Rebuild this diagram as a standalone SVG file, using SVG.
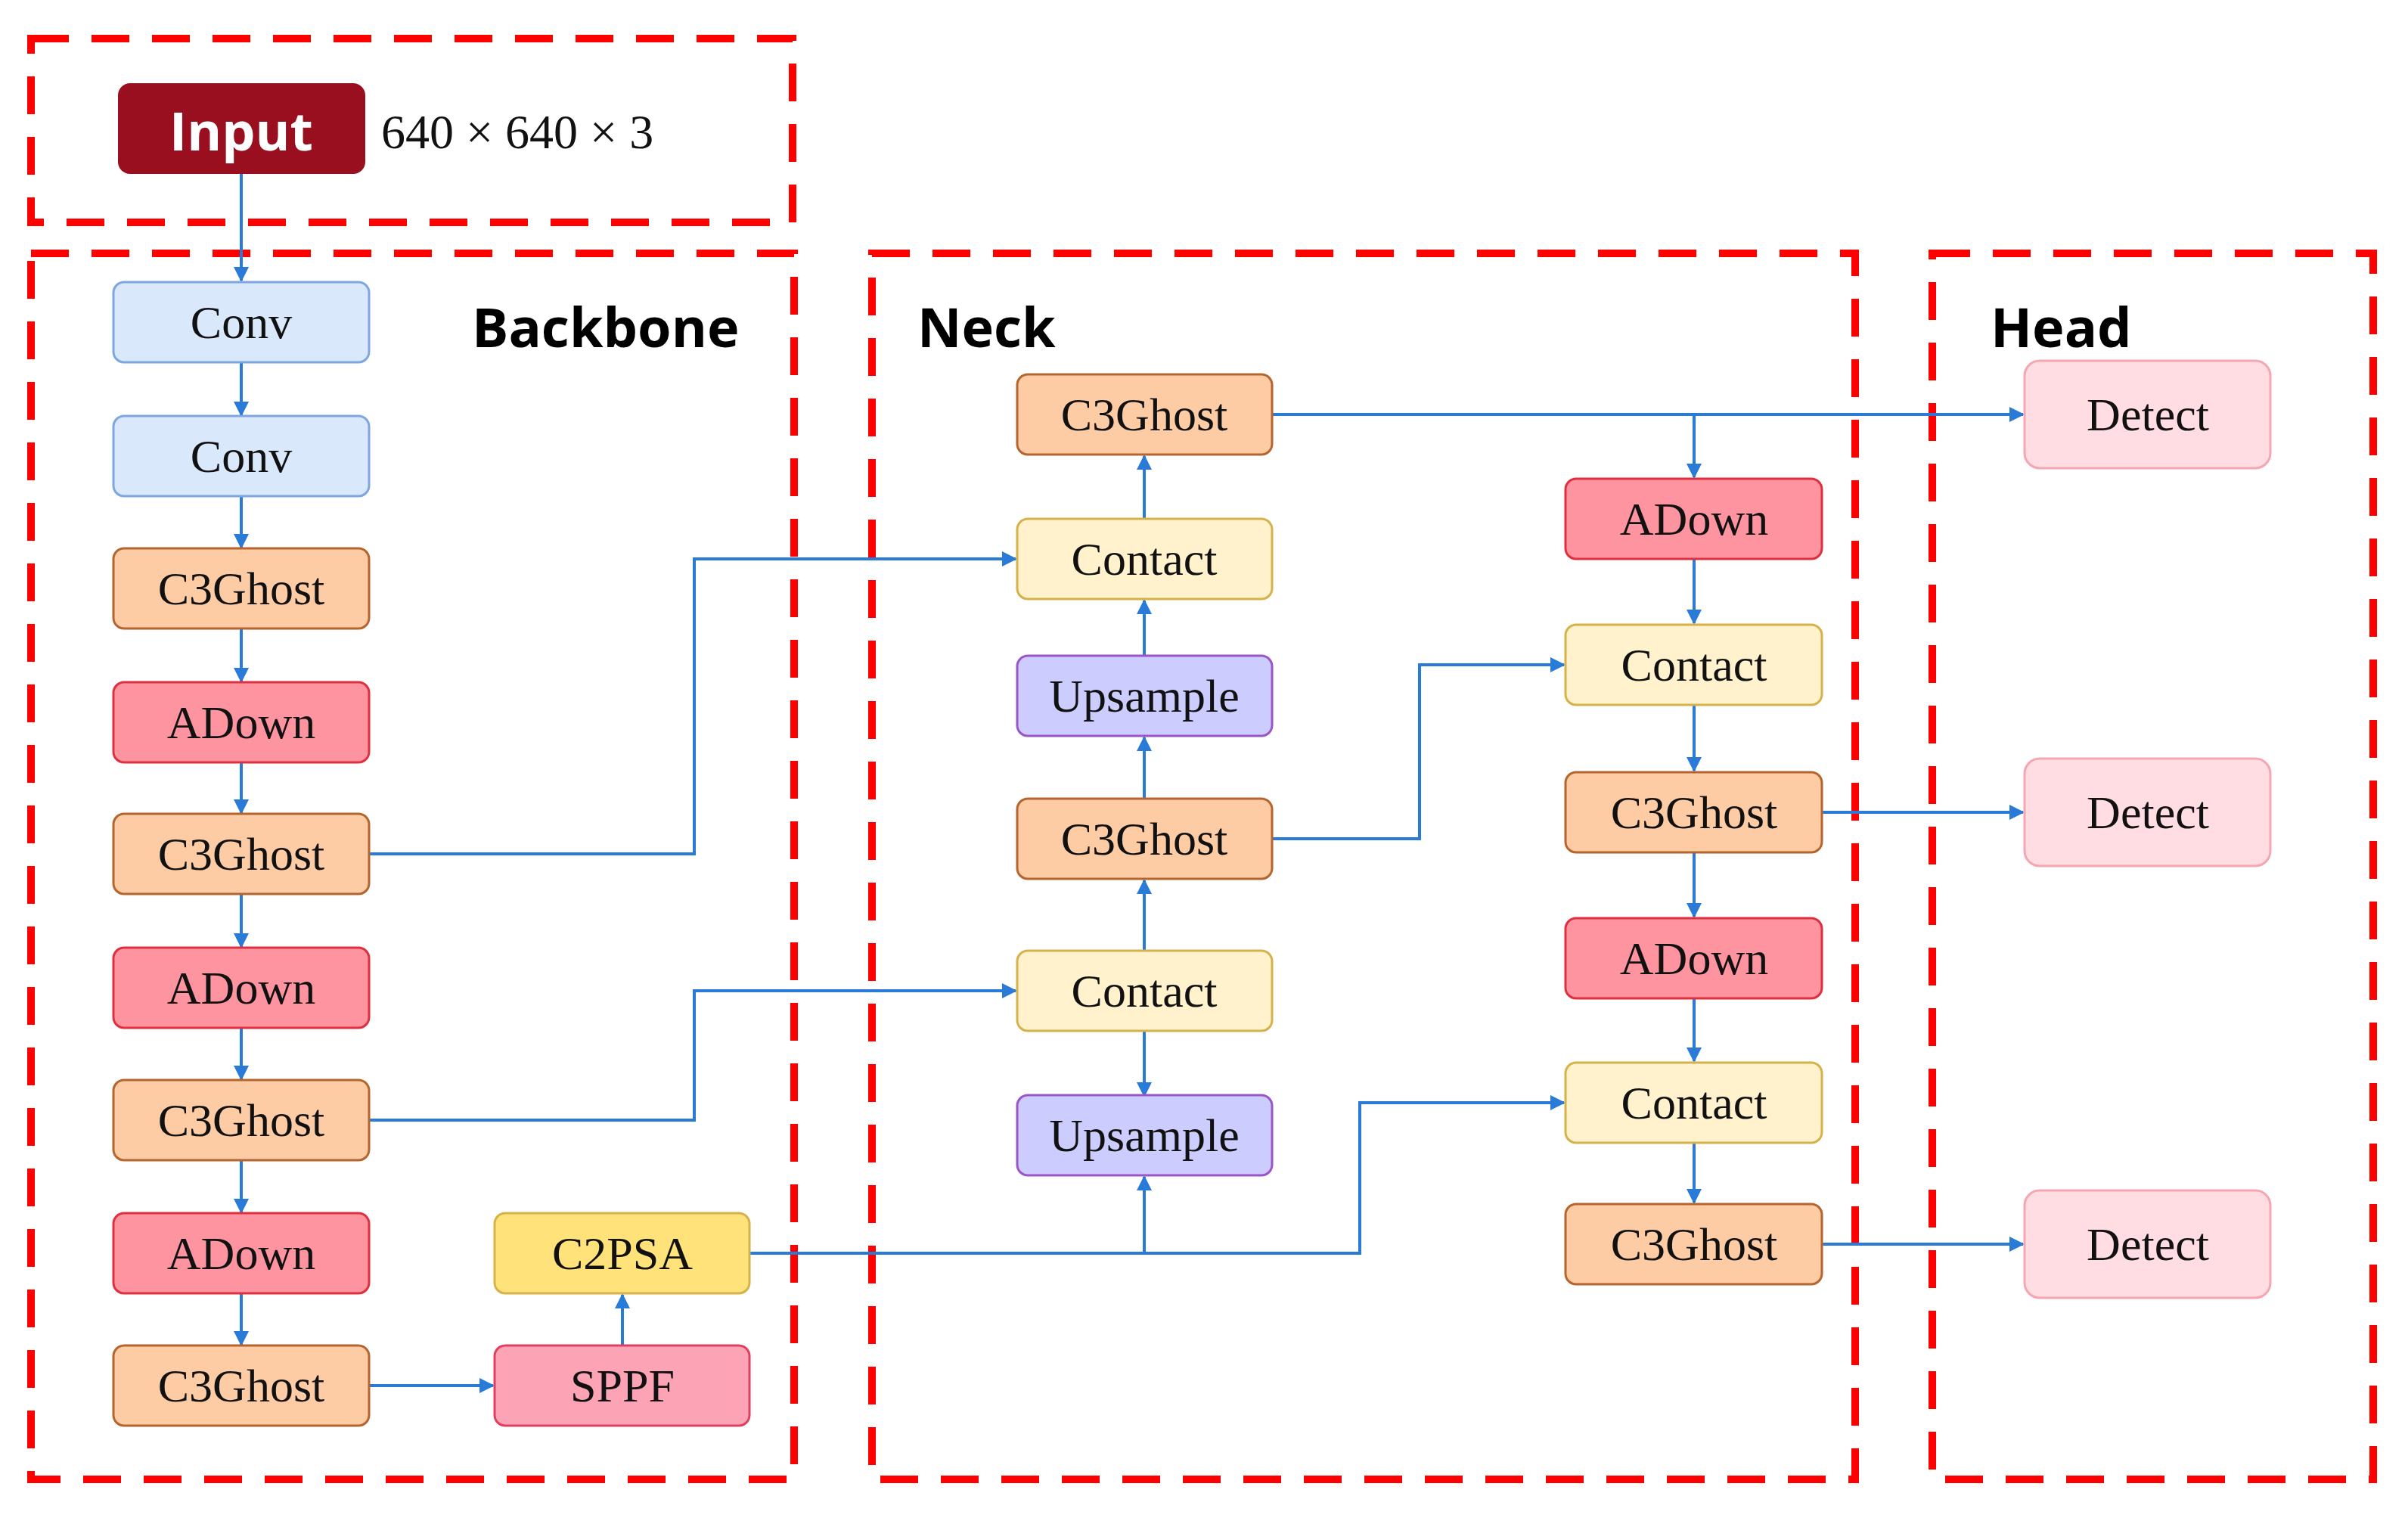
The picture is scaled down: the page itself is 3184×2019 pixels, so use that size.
<svg xmlns="http://www.w3.org/2000/svg" width="3184" height="2019" viewBox="0 0 3184 2019">
<style>
.frame{fill:none;stroke:#ff0000;stroke-width:10;stroke-dasharray:50 30}
.n{stroke-width:3}
.t{font-family:"Liberation Serif",serif;font-size:62px;text-anchor:middle;dominant-baseline:central;fill:#111}
.lbl{font-family:"Open Sans","Liberation Sans",sans-serif;font-weight:bold;font-size:72px;fill:#000}
.conv{fill:#dae8fc;stroke:#7ea6e0}
.c3{fill:#fdcba4;stroke:#b5652e}
.ad{fill:#fe94a0;stroke:#e0303f}
.ct{fill:#fff2cc;stroke:#d6b24a}
.up{fill:#ccccff;stroke:#9a56c8}
.c2{fill:#ffe27a;stroke:#d6b24a}
.sp{fill:#fda3b6;stroke:#e04060}
.dt{fill:#ffdde2;stroke:#f4a7b3}
.e{fill:none;stroke:#2a7bd8;stroke-width:4;marker-end:url(#a)}
</style>
<defs><marker id="a" viewBox="0 0 10 10" refX="9" refY="5" markerWidth="5" markerHeight="5" orient="auto"><path d="M0,0L10,5L0,10z" fill="#2a7bd8"/></marker></defs>
<rect width="3184" height="2019" fill="#fff"/>
<g id="frames">
<rect class="frame" x="41" y="51" width="1007" height="243"/>
<rect class="frame" x="41" y="335" width="1009" height="1621"/>
<rect class="frame" x="1153" y="335" width="1300" height="1621"/>
<rect class="frame" x="2555" y="335" width="583" height="1621"/>
<text class="lbl" x="624" y="459">Backbone</text>
<text class="lbl" x="1213" y="459">Neck</text>
<text class="lbl" x="2632" y="459">Head</text>
</g>
<g id="connectors">
<path class="e" d="M319,230V371"/>
<path class="e" d="M319,479V549"/>
<path class="e" d="M319,656V724"/>
<path class="e" d="M319,831V901"/>
<path class="e" d="M319,1008V1075"/>
<path class="e" d="M319,1182V1252"/>
<path class="e" d="M319,1359V1427"/>
<path class="e" d="M319,1534V1603"/>
<path class="e" d="M319,1710V1778"/>
<path class="e" d="M488,1832H652"/>
<path class="e" d="M823,1778V1712"/>
<path class="e" d="M488,1129H918V739H1343"/>
<path class="e" d="M488,1481H918V1310H1343"/>
<path class="e" d="M991,1657H1513V1556"/>
<path class="e" d="M1513,1657H1798V1458H2068"/>
<path class="e" d="M1513,1363V1449"/>
<path class="e" d="M1513,1257V1164"/>
<path class="e" d="M1513,1055V975"/>
<path class="e" d="M1513,867V794"/>
<path class="e" d="M1513,686V603"/>
<path class="e" d="M1682,1109H1877V879H2068"/>
<path class="e" d="M1682,548H2675"/>
<path class="e" d="M2240,548V631"/>
<path class="e" d="M2240,739V824"/>
<path class="e" d="M2240,932V1019"/>
<path class="e" d="M2240,1127V1212"/>
<path class="e" d="M2240,1320V1403"/>
<path class="e" d="M2240,1511V1590"/>
<path class="e" d="M2409,1074H2675"/>
<path class="e" d="M2409,1645H2675"/>
</g>
<g id="input"><rect x="156" y="110" width="327" height="120" rx="16" fill="#990f1f"/><text x="319" y="172" font-family="Open Sans,Liberation Sans,sans-serif" font-weight="bold" font-size="70" fill="#fff" text-anchor="middle" dominant-baseline="central">Input</text></g>
<text x="504" y="174" font-family="Liberation Serif,serif" font-size="64" dominant-baseline="central" fill="#111">640 × 640 × 3</text>
<g id="b1"><rect class="n conv" x="150" y="373" width="338" height="106" rx="14"/><text class="t" x="319" y="426">Conv</text></g>
<g id="b2"><rect class="n conv" x="150" y="550" width="338" height="106" rx="14"/><text class="t" x="319" y="603">Conv</text></g>
<g id="b3"><rect class="n c3" x="150" y="725" width="338" height="106" rx="14"/><text class="t" x="319" y="778">C3Ghost</text></g>
<g id="b4"><rect class="n ad" x="150" y="902" width="338" height="106" rx="14"/><text class="t" x="319" y="955">ADown</text></g>
<g id="b5"><rect class="n c3" x="150" y="1076" width="338" height="106" rx="14"/><text class="t" x="319" y="1129">C3Ghost</text></g>
<g id="b6"><rect class="n ad" x="150" y="1253" width="338" height="106" rx="14"/><text class="t" x="319" y="1306">ADown</text></g>
<g id="b7"><rect class="n c3" x="150" y="1428" width="338" height="106" rx="14"/><text class="t" x="319" y="1481">C3Ghost</text></g>
<g id="b8"><rect class="n ad" x="150" y="1604" width="338" height="106" rx="14"/><text class="t" x="319" y="1657">ADown</text></g>
<g id="b9"><rect class="n c3" x="150" y="1779" width="338" height="106" rx="14"/><text class="t" x="319" y="1832">C3Ghost</text></g>
<g id="sppf"><rect class="n sp" x="654" y="1779" width="337" height="106" rx="14"/><text class="t" x="823" y="1832">SPPF</text></g>
<g id="c2psa"><rect class="n c2" x="654" y="1604" width="337" height="106" rx="14"/><text class="t" x="823" y="1657">C2PSA</text></g>
<g id="n1"><rect class="n c3" x="1345" y="495" width="337" height="106" rx="14"/><text class="t" x="1513" y="548">C3Ghost</text></g>
<g id="n2"><rect class="n ct" x="1345" y="686" width="337" height="106" rx="14"/><text class="t" x="1513" y="739">Contact</text></g>
<g id="n3"><rect class="n up" x="1345" y="867" width="337" height="106" rx="14"/><text class="t" x="1513" y="920">Upsample</text></g>
<g id="n4"><rect class="n c3" x="1345" y="1056" width="337" height="106" rx="14"/><text class="t" x="1513" y="1109">C3Ghost</text></g>
<g id="n5"><rect class="n ct" x="1345" y="1257" width="337" height="106" rx="14"/><text class="t" x="1513" y="1310">Contact</text></g>
<g id="n6"><rect class="n up" x="1345" y="1448" width="337" height="106" rx="14"/><text class="t" x="1513" y="1501">Upsample</text></g>
<g id="m1"><rect class="n ad" x="2070" y="633" width="339" height="106" rx="14"/><text class="t" x="2240" y="686">ADown</text></g>
<g id="m2"><rect class="n ct" x="2070" y="826" width="339" height="106" rx="14"/><text class="t" x="2240" y="879">Contact</text></g>
<g id="m3"><rect class="n c3" x="2070" y="1021" width="339" height="106" rx="14"/><text class="t" x="2240" y="1074">C3Ghost</text></g>
<g id="m4"><rect class="n ad" x="2070" y="1214" width="339" height="106" rx="14"/><text class="t" x="2240" y="1267">ADown</text></g>
<g id="m5"><rect class="n ct" x="2070" y="1405" width="339" height="106" rx="14"/><text class="t" x="2240" y="1458">Contact</text></g>
<g id="m6"><rect class="n c3" x="2070" y="1592" width="339" height="106" rx="14"/><text class="t" x="2240" y="1645">C3Ghost</text></g>
<g id="d1"><rect class="n dt" x="2677" y="477" width="325" height="142" rx="20"/><text class="t" x="2840" y="548">Detect</text></g>
<g id="d2"><rect class="n dt" x="2677" y="1003" width="325" height="142" rx="20"/><text class="t" x="2840" y="1074">Detect</text></g>
<g id="d3"><rect class="n dt" x="2677" y="1574" width="325" height="142" rx="20"/><text class="t" x="2840" y="1645">Detect</text></g>
</svg>
